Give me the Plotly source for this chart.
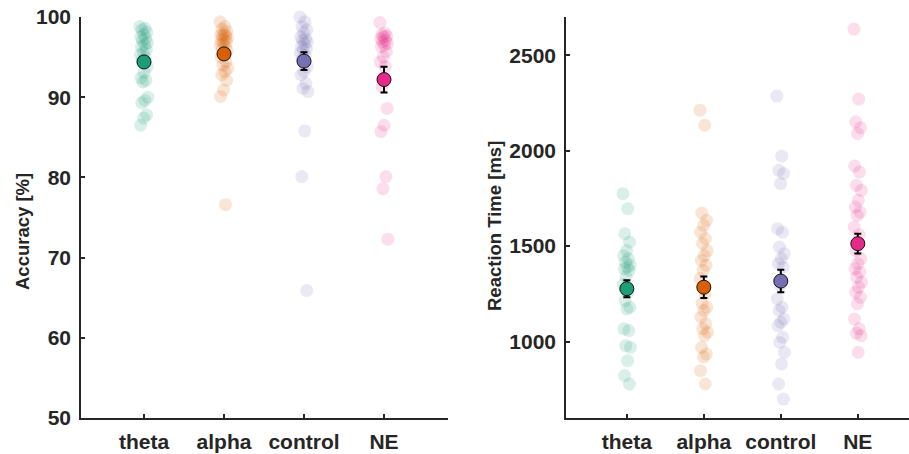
import plotly.graph_objects as go

categories = ["theta", "alpha", "control", "NE"]
colors = ["#1b9e77", "#d95f02", "#7570b3", "#e7298a"]

# Accuracy [%] per subject
acc_theta = [98.8, 98.6, 98.4, 98.1, 97.8, 97.5, 97.3, 97.1, 96.8, 96.5, 96.3, 95.9, 95.6, 95.3,
             94.9, 94.6, 93.8, 93.1, 92.4, 92.1, 91.9, 90.0, 89.6, 89.3, 87.8, 87.4, 86.5]
acc_alpha = [99.4, 98.8, 98.5, 98.2, 97.9, 97.8, 97.7, 97.6, 97.4, 97.2, 97.1, 96.9, 96.7, 96.5,
             96.3, 96.1, 95.8, 95.5, 95.0, 94.4, 94.0, 93.6, 93.2, 92.8, 92.1, 90.9, 90.1, 76.6]
acc_control = [100.0, 99.4, 98.8, 98.4, 98.0, 97.5, 97.3, 97.1, 96.9, 96.7, 96.3, 96.0, 95.9,
               95.5, 95.2, 94.8, 93.8, 93.2, 92.8, 91.7, 91.1, 90.7, 85.8, 80.1, 65.9]
acc_ne = [99.3, 98.0, 97.8, 97.6, 97.5, 97.3, 97.1, 96.9, 96.7, 96.5, 96.3, 95.7, 95.0, 94.4,
          93.8, 91.3, 88.6, 86.5, 85.7, 80.1, 78.6, 72.3]
acc_mean = [94.4, 95.4, 94.5, 92.2]
acc_sem = [0.5, 0.6, 1.1, 1.6]

# Reaction time [ms] per subject
rt_theta = [1775, 1696, 1565, 1521, 1477, 1451, 1434, 1416, 1400, 1390, 1381, 1373, 1340, 1300,
            1260, 1215, 1180, 1172, 1067, 1058, 979, 970, 900, 822, 778]
rt_alpha = [2212, 2133, 1673, 1635, 1609, 1573, 1540, 1513, 1477, 1450, 1425, 1400, 1373, 1330,
            1250, 1200, 1180, 1163, 1128, 1093, 1067, 1049, 1031, 970, 935, 920, 848, 778]
rt_control = [2286, 1971, 1897, 1880, 1827, 1591, 1573, 1495, 1460, 1434, 1408, 1390, 1294, 1224,
              1180, 1163, 1119, 1101, 1084, 1023, 996, 944, 883, 778, 699]
rt_ne = [2637, 2270, 2151, 2120, 2090, 1920, 1888, 1819, 1792, 1740, 1705, 1678, 1661, 1600, 1560,
         1477, 1434, 1408, 1381, 1364, 1337, 1311, 1285, 1259, 1232, 1198, 1119, 1067, 1045, 1031, 944]
rt_mean = [1277, 1285, 1317, 1513]
rt_sem = [44, 56, 59, 52]

acc_yticks = [50, 60, 70, 80, 90, 100]
rt_yticks = [1000, 1500, 2000, 2500]

AX = "#262626"
FONT = "Liberation Sans"


def rgba(hexc, a):
    h = hexc.lstrip("#")
    r, g, b = int(h[0:2], 16), int(h[2:4], 16), int(h[4:6], 16)
    return f"rgba({r},{g},{b},{a})"


def jitter(n, amp=0.05):
    return [amp * (((i * 0.618034) % 1.0) * 2 - 1) for i in range(n)]


fig = go.Figure()

panels = [
    ([acc_theta, acc_alpha, acc_control, acc_ne], acc_mean, acc_sem, "x", "y"),
    ([rt_theta, rt_alpha, rt_control, rt_ne], rt_mean, rt_sem, "x2", "y2"),
]

for groups, means, sems, xa, ya in panels:
    for k, vals in enumerate(groups):
        xs = [k + 1 + j for j in jitter(len(vals))]
        fig.add_trace(go.Scatter(
            x=xs, y=vals, mode="markers", xaxis=xa, yaxis=ya, showlegend=False,
            cliponaxis=False,
            marker=dict(size=13, color=rgba(colors[k], 0.16), line=dict(width=0)),
            hoverinfo="y"))
    for k in range(4):
        fig.add_trace(go.Scatter(
            x=[k + 1], y=[means[k]], mode="markers", xaxis=xa, yaxis=ya, showlegend=False,
            cliponaxis=False,
            marker=dict(size=14, color=colors[k], line=dict(width=1, color="#111111")),
            error_y=dict(type="data", array=[sems[k]], color="black", thickness=2, width=3.5),
            hoverinfo="y"))

xcommon = dict(tickvals=[1, 2, 3, 4], ticktext=categories, showline=True, linecolor=AX,
               linewidth=1.5, ticks="inside", ticklen=4, tickwidth=1.5, tickcolor=AX,
               showgrid=False, zeroline=False, ticklabelstandoff=4, automargin=False,
               tickfont=dict(family=FONT, size=21, color=AX, weight="bold"))
ycommon = dict(showline=True, linecolor=AX, linewidth=1.5, ticks="inside", ticklen=4,
               tickwidth=1.5, tickcolor=AX, showgrid=False, zeroline=False, automargin=False,
               tickfont=dict(family=FONT, size=21, color=AX, weight="bold"),
               ticklabelstandoff=4)

ydom = [1 - 418 / 454, 1 - 17 / 454]
fig.update_layout(
    width=909, height=454, margin=dict(l=0, r=0, t=0, b=0, pad=0, autoexpand=False),
    paper_bgcolor="white", plot_bgcolor="white",
    xaxis=dict(domain=[81 / 909, 448 / 909], range=[0.2125, 4.8], anchor="y", **xcommon),
    yaxis=dict(domain=ydom, range=[50, 100], tickvals=acc_yticks, anchor="x", **ycommon),
    xaxis2=dict(domain=[566 / 909, 1.0], range=[0.21, 4.665], anchor="y2", **xcommon),
    yaxis2=dict(domain=ydom, range=[600, 2700], tickvals=rt_yticks, anchor="x2", **ycommon),
    annotations=[
        dict(text="<b>Accuracy [%]</b>", x=22 / 909, y=1 - 232 / 454, xref="paper", yref="paper",
             textangle=-90, showarrow=False, xanchor="center", yanchor="middle",
             font=dict(family=FONT, size=18.5, color=AX)),
        dict(text="<b>Reaction Time [ms]</b>", x=494 / 909, y=1 - 226 / 454, xref="paper",
             yref="paper", textangle=-90, showarrow=False, xanchor="center", yanchor="middle",
             font=dict(family=FONT, size=18.5, color=AX)),
    ],
)

fig.write_html("out.html")
